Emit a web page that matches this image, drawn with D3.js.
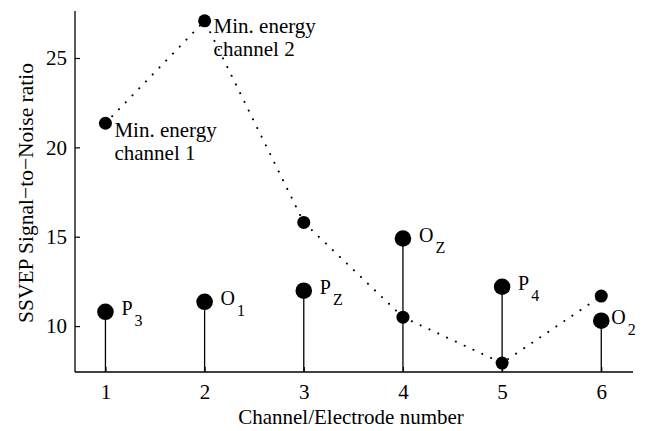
<!DOCTYPE html>
<html>
<head>
<meta charset="utf-8">
<script src="https://cdn.jsdelivr.net/npm/d3@7"></script>
<style>
  body { margin: 0; background: #fff; }
  svg text { fill: #000; }
</style>
</head>
<body>
<svg id="chart"></svg>
<script>
// data
const channels = [1, 2, 3, 4, 5, 6];
const electrodeSnr = [10.8, 11.36, 11.98, 14.9, 12.2, 10.3];
const electrodeNames = ["P", "O", "P", "O", "P", "O"];
const electrodeSubs = ["3", "1", "Z", "Z", "4", "2"];
const minEnergySnr = [21.35, 27.08, 15.8, 10.5, 7.93, 11.68];
const minEnergyLabels = [
  { ch: 1, lines: ["Min. energy", "channel 1"] },
  { ch: 2, lines: ["Min. energy", "channel 2"] },
];
const yTicks = [10, 15, 20, 25];

// settings
const width = 652;
const height = 431;
const margin = { top: 11, right: 19, bottom: 59, left: 75 };
const plotWidth = width - margin.left - margin.right;
const plotHeight = height - margin.top - margin.bottom;
const serif = "'Liberation Serif', 'Times New Roman', serif";

const svg = d3.select("#chart").attr("width", width).attr("height", height);
const plot = svg
  .append("g")
  .attr("transform", `translate(${margin.left}, ${margin.top})`);

// scales
const xScale = d3.scaleLinear().domain([0.693, 6.32]).range([0, plotWidth]);
const yScale = d3.scaleLinear().domain([7.43, 27.63]).range([plotHeight, 0]);

// axes (ticks point inward)
const xAxis = d3.axisBottom(xScale).tickValues(channels).tickSize(-5).tickPadding(12).tickFormat(d3.format("d"));
const yAxis = d3.axisLeft(yScale).tickValues(yTicks).tickSize(-5).tickPadding(8);

const xAxisG = plot.append("g").attr("transform", `translate(0, ${plotHeight})`).call(xAxis);
const yAxisG = plot.append("g").call(yAxis);

[xAxisG, yAxisG].forEach((g) => {
  g.attr("font-family", null).attr("font-size", null);
  g.select(".domain").attr("stroke", "#000").attr("stroke-width", 1.3);
  g.selectAll(".tick line").attr("stroke", "#000").attr("stroke-width", 1.2);
  g.selectAll(".tick text")
    .style("font-family", serif)
    .style("font-size", "21px")
    .attr("fill", "#000");
});
yAxisG.select(".domain").attr("d", `M0,0V${plotHeight}`);
xAxisG.select(".domain").attr("d", `M0,0H${plotWidth}`);

// axis titles
svg
  .append("text")
  .attr("x", margin.left + plotWidth / 2 - 3)
  .attr("y", 424)
  .attr("text-anchor", "middle")
  .style("font-family", serif)
  .style("font-size", "21px")
  .text("Channel/Electrode number");

svg
  .append("text")
  .attr("transform", `translate(33, ${193}) rotate(-90)`)
  .attr("text-anchor", "middle")
  .style("font-family", serif)
  .style("font-size", "21.5px")
  .text("SSVEP Signal\u2212to\u2212Noise ratio");

// stems
const electrodeData = channels.map((c, i) => ({
  x: c,
  y: electrodeSnr[i],
  name: electrodeNames[i],
  sub: electrodeSubs[i],
}));

plot
  .selectAll(".stem")
  .data(electrodeData)
  .join("line")
  .attr("class", "stem")
  .attr("x1", (d) => xScale(d.x))
  .attr("x2", (d) => xScale(d.x))
  .attr("y1", plotHeight)
  .attr("y2", (d) => yScale(d.y))
  .attr("stroke", "#000")
  .attr("stroke-width", 1.3);

// dotted min. energy line
const minData = channels.map((c, i) => ({ x: c, y: minEnergySnr[i] }));
const lineGen = d3
  .line()
  .x((d) => xScale(d.x))
  .y((d) => yScale(d.y));

plot
  .append("path")
  .attr("d", lineGen(minData))
  .attr("fill", "none")
  .attr("stroke", "#000")
  .attr("stroke-width", 2)
  .attr("stroke-linecap", "round")
  .attr("stroke-dasharray", "0.1 9.6");

plot
  .selectAll(".minpt")
  .data(minData)
  .join("circle")
  .attr("class", "minpt")
  .attr("cx", (d) => xScale(d.x))
  .attr("cy", (d) => yScale(d.y))
  .attr("r", 6.5)
  .attr("fill", "#000");

plot
  .selectAll(".elpt")
  .data(electrodeData)
  .join("circle")
  .attr("class", "elpt")
  .attr("cx", (d) => xScale(d.x))
  .attr("cy", (d) => yScale(d.y))
  .attr("r", 8.3)
  .attr("fill", "#000");

// electrode labels with subscripts
const elLabels = plot
  .selectAll(".ellabel")
  .data(electrodeData)
  .join("text")
  .attr("class", "ellabel")
  .attr("x", (d, i) => xScale(d.x) + (i === channels.length - 1 ? 10 : 16))
  .attr("y", (d) => yScale(d.y) + 3.5)
  .style("font-family", serif)
  .style("font-size", "20px");

elLabels.append("tspan").text((d) => d.name);
elLabels
  .append("tspan")
  .attr("dx", 2)
  .attr("dy", 11)
  .style("font-size", "16px")
  .text((d) => d.sub);

// min. energy annotations
minEnergyLabels.forEach((lab) => {
  const i = channels.indexOf(lab.ch);
  const t = plot
    .append("text")
    .attr("x", xScale(lab.ch) + 9)
    .attr("y", yScale(minEnergySnr[i]) + (i === 0 ? 14 : 12.5))
    .style("font-family", serif)
    .style("font-size", "21px");
  lab.lines.forEach((line, k) => {
    t.append("tspan")
      .attr("x", xScale(lab.ch) + 9)
      .attr("dy", k === 0 ? 0 : 23)
      .text(line);
  });
});
</script>
</body>
</html>
